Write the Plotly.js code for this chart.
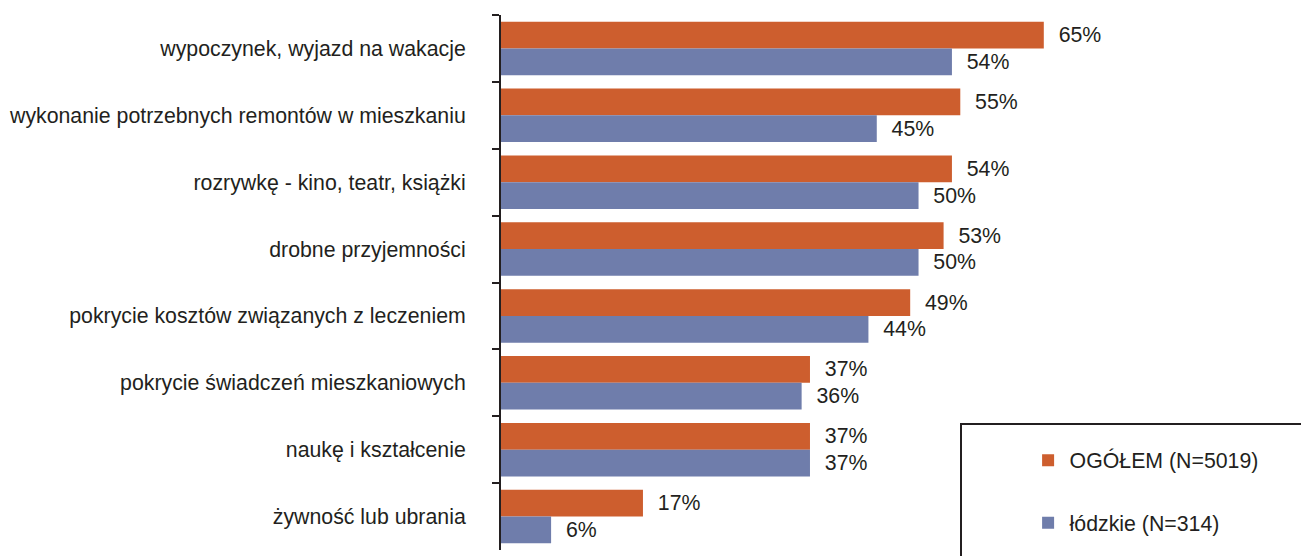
<!DOCTYPE html>
<html>
<head>
<meta charset="utf-8">
<script src="https://cdn.plot.ly/plotly-3.0.1.min.js"></script>
<style>html,body{margin:0;padding:0;background:#fff;}#chart{width:1301px;height:556px;}</style>
</head>
<body>
<div id="chart"></div>
<script>
const categories = [
  "wypoczynek, wyjazd na wakacje",
  "wykonanie potrzebnych remontów w mieszkaniu",
  "rozrywkę - kino, teatr, książki",
  "drobne przyjemności",
  "pokrycie kosztów związanych z leczeniem",
  "pokrycie świadczeń mieszkaniowych",
  "naukę i kształcenie",
  "żywność lub ubrania"
];
const seriesNames = ["OGÓŁEM (N=5019)", "łódzkie (N=314)"];
const ogolem = [65, 55, 54, 53, 49, 37, 37, 17];
const lodzkie = [54, 45, 50, 50, 44, 36, 37, 6];

const font = {family: "Liberation Sans, Arial, Helvetica, sans-serif", size: 21.3, color: "#231f20"};
const pad = "\u00a0\u00a0";

function barTrace(vals, name, color, grp) {
  return {
    type: "bar", orientation: "h",
    x: vals, y: categories, name: name,
    legendgroup: grp,
    marker: {color: color, line: {width: 0}},
    text: vals.map(v => pad + v + "%"),
    textposition: "outside",
    textfont: font,
    constraintext: "none",
    cliponaxis: false,
    hoverinfo: "none"
  };
}

const data = [
  barTrace(ogolem, seriesNames[0], "#CD5E2E", "a"),
  barTrace(lodzkie, seriesNames[1], "#6F7DAB", "b")
];

const layout = {
  width: 1301, height: 556,
  margin: {l: 501, r: 0, t: 15, b: 6, pad: 0},
  paper_bgcolor: "#ffffff", plot_bgcolor: "#ffffff",
  barmode: "group", bargap: 0.2, bargroupgap: 0,
  font: font,
  showlegend: true,
  legend: {
    x: 0.657, xanchor: "left", y: 0.206, yanchor: "top",
    bgcolor: "rgba(0,0,0,0)", borderwidth: 0,
    traceorder: "grouped", tracegroupgap: 32,
    itemwidth: 33,
    font: font
  },
  xaxis: {
    range: [0, 95.8], showgrid: false, zeroline: false,
    showticklabels: false, ticks: "", showline: false, fixedrange: true
  },
  yaxis: {
    type: "category", autorange: "reversed",
    showgrid: false, zeroline: false,
    showline: true, linecolor: "#231f20", linewidth: 2,
    ticks: "outside", ticklen: 7, tickwidth: 2, tickcolor: "#231f20",
    tickson: "boundaries",
    ticklabelstandoff: 29,
    tickfont: font, fixedrange: true
  },
  shapes: [{
    type: "rect", xref: "paper", yref: "paper",
    x0: 0.575, x1: 1.05, y0: 0.2355, y1: -0.1,
    line: {color: "#231f20", width: 2}, fillcolor: "rgba(0,0,0,0)"
  }]
};

Plotly.newPlot("chart", data, layout, {displayModeBar: false, staticPlot: true});
</script>
</body>
</html>
